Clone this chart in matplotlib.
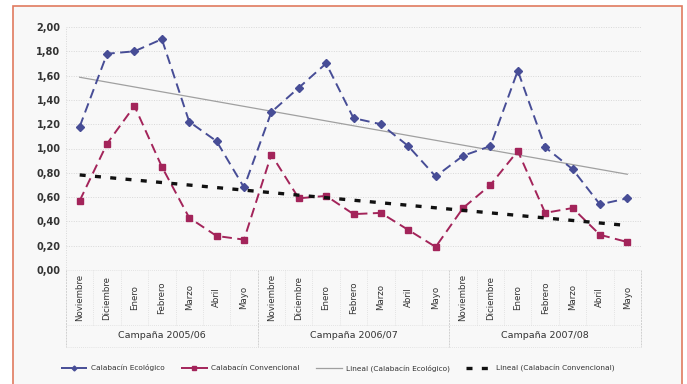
import matplotlib
matplotlib.use("Agg")
import matplotlib.pyplot as plt
import numpy as np
from matplotlib.patches import Rectangle
from matplotlib.lines import Line2D

months = ["Noviembre", "Diciembre", "Enero", "Febrero", "Marzo", "Abril", "Mayo"]
campaigns = ["Campaña 2005/06", "Campaña 2006/07", "Campaña 2007/08"]
ecologico = [1.18, 1.78, 1.80, 1.90, 1.22, 1.06, 0.68,
             1.30, 1.50, 1.70, 1.25, 1.20, 1.02, 0.77,
             0.94, 1.02, 1.64, 1.01, 0.83, 0.54, 0.59]
convencional = [0.57, 1.04, 1.35, 0.85, 0.43, 0.28, 0.25,
                0.95, 0.59, 0.61, 0.46, 0.47, 0.33, 0.19,
                0.51, 0.70, 0.98, 0.47, 0.51, 0.29, 0.23]
yticks = [0.0, 0.2, 0.4, 0.6, 0.8, 1.0, 1.2, 1.4, 1.6, 1.8, 2.0]

W, H = 687, 384
fig = plt.figure(figsize=(W / 100, H / 100), dpi=100)
fig.patch.set_facecolor("white")

# outer frame
fig.patches.append(Rectangle((13 / W, -0.05), (682 - 13) / W, (H - 6) / H + 0.05,
                             transform=fig.transFigure, facecolor="#f8f8f8",
                             edgecolor="#e07a5f", linewidth=1.2, zorder=-10))

L, R, T, B = 66, 641, 27, 270
ax = fig.add_axes([L / W, 1 - B / H, (R - L) / W, (B - T) / H])
ax.set_facecolor("none")
ax.set_zorder(5)

n = len(ecologico)
x = np.arange(n)
blue = "#474d96"
red = "#a3245a"

# trend lines
pe = np.polyfit(x, ecologico, 1)
pc = np.polyfit(x, convencional, 1)
ax.plot(x, np.polyval(pe, x), color="#a0a0a0", lw=0.9, zorder=2)
ax.plot(x, np.polyval(pc, x), color="#111111", lw=2.4, ls=(0, (1.8, 2.8)), zorder=4)

ax.plot(x, ecologico, color=blue, lw=1.4, ls=(0, (5, 2.8)), marker="D", ms=3.6,
        mfc=blue, mec=blue, zorder=3)
ax.plot(x, convencional, color=red, lw=1.4, ls=(0, (5, 2.8)), marker="s", ms=4.5,
        mfc=red, mec=red, zorder=3)

ax.set_xlim(-0.5, n - 0.5)
ax.set_ylim(0, 2.0)
ax.set_yticks(yticks)
ax.set_yticklabels([f"{v:.2f}".replace(".", ",") for v in yticks],
                   fontsize=7, color="#333333", fontweight="bold")
ax.tick_params(axis="y", length=0, pad=4)
ax.set_xticks([])
for s in ax.spines.values():
    s.set_visible(False)
for v in yticks[1:]:
    ax.axhline(v, color="#d8d8d8", lw=0.7, ls=(0, (1, 1.5)), zorder=1)
ax.axvline(-0.5, color="#d8d8d8", lw=0.7, ls=(0, (1, 1.5)), zorder=1)

# category axis
trans = ax.get_xaxis_transform()
y_month_bot = -(325 - B) / (B - T)
y_camp_bot = -(347 - B) / (B - T)
for i in range(n):
    ax.text(i, y_month_bot / 2, months[i % 7], rotation=90, ha="center", va="center",
            fontsize=6.2, color="#333333", transform=trans)
for i in range(n + 1):
    xb = i - 0.5
    if i % 7 == 0:
        ax.plot([xb, xb], [0, y_camp_bot], color="#d0d0d0", lw=0.7,
                ls=(0, (2, 1)), transform=trans, clip_on=False)
    else:
        ax.plot([xb, xb], [0, y_month_bot], color="#dcdcdc", lw=0.6,
                ls=(0, (1, 1.5)), transform=trans, clip_on=False)
for yb in (0, y_month_bot, y_camp_bot):
    ax.plot([-0.5, n - 0.5], [yb, yb], color="#dcdcdc", lw=0.6,
            ls=(0, (1, 1.5)), transform=trans, clip_on=False)
for j, c in enumerate(campaigns):
    ax.text(j * 7 + 3, (y_month_bot + y_camp_bot) / 2, c, ha="center", va="center",
            fontsize=6.8, color="#333333", transform=trans)

handles = [
    Line2D([], [], color=blue, lw=1.4, ls=(0, (6, 2)), marker="D", ms=2.5),
    Line2D([], [], color=red, lw=1.4, ls=(0, (6, 2)), marker="s", ms=3),
    Line2D([], [], color="#a0a0a0", lw=0.9),
    Line2D([], [], color="#111111", lw=2.4, ls=(0, (1.8, 2.8))),
]
labels = ["Calabacín Ecológico", "Calabacín Convencional",
          "Lineal (Calabacín Ecológico)", "Lineal (Calabacín Convencional)"]
fig.legend(handles, labels, loc="center", bbox_to_anchor=(338 / W, 1 - 368 / H),
           ncol=4, frameon=False, fontsize=5.3, handlelength=3.6, columnspacing=2.2,
           handletextpad=0.5, labelcolor="#333333")

fig.savefig("out.png", dpi=100, facecolor=fig.get_facecolor())
